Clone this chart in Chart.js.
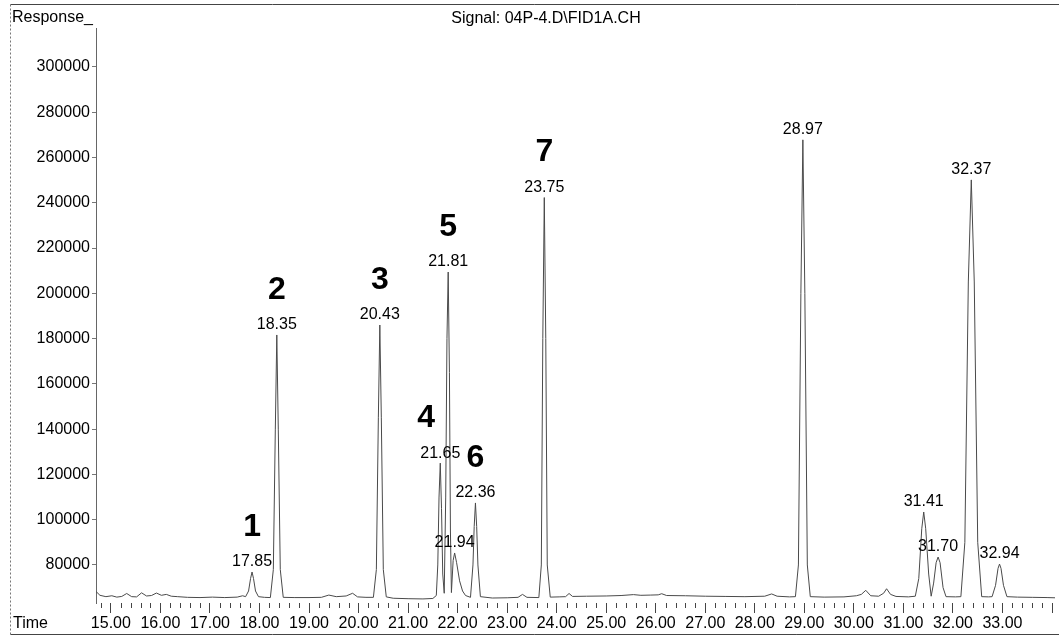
<!DOCTYPE html>
<html>
<head>
<meta charset="utf-8">
<script src="https://cdn.jsdelivr.net/npm/chart.js@4.4.1/dist/chart.umd.min.js"></script>
<style>
  html, body { margin: 0; padding: 0; background: #fff; }
</style>
</head>
<body>
<canvas id="cromatograma" width="1060" height="637"></canvas>
<script>
const tiempos = [
  14.70, 14.78, 14.90, 15.02, 15.12, 15.22, 15.32, 15.42, 15.52, 15.62,
  15.72, 15.82, 15.92, 16.02, 16.12, 16.22, 16.35, 16.55, 16.80, 17.05,
  17.30, 17.55, 17.66, 17.72, 17.78, 17.82, 17.85, 17.88, 17.92, 17.98,
  18.10, 18.22, 18.28, 18.32, 18.35, 18.38, 18.42, 18.48, 18.70, 19.00,
  19.25, 19.40, 19.55, 19.75, 19.88, 19.98, 20.15, 20.30, 20.36, 20.40,
  20.43, 20.46, 20.50, 20.56, 20.70, 21.00, 21.30, 21.50, 21.57, 21.60,
  21.625, 21.65, 21.675, 21.70, 21.73, 21.76, 21.785, 21.81, 21.835, 21.855,
  21.875, 21.91, 21.94, 21.98, 22.04, 22.10, 22.16, 22.26, 22.31, 22.335,
  22.36, 22.385, 22.41, 22.46, 22.70, 23.00, 23.22, 23.31, 23.40, 23.64,
  23.69, 23.72, 23.75, 23.78, 23.81, 23.87, 24.05, 24.18, 24.25, 24.32,
  24.60, 25.00, 25.30, 25.55, 25.70, 25.90, 26.05, 26.12, 26.22, 26.60,
  27.00, 27.40, 27.80, 28.20, 28.34, 28.45, 28.70, 28.82, 28.88, 28.93,
  28.97, 29.01, 29.06, 29.12, 29.40, 29.80, 30.05, 30.15, 30.24, 30.34,
  30.50, 30.60, 30.66, 30.74, 30.85, 31.10, 31.24, 31.31, 31.37, 31.41,
  31.45, 31.51, 31.56, 31.61, 31.66, 31.70, 31.74, 31.80, 31.86, 32.05,
  32.16, 32.24, 32.31, 32.37, 32.43, 32.50, 32.58, 32.72, 32.79, 32.86,
  32.91, 32.94, 32.97, 33.02, 33.09, 33.30, 33.60, 33.90, 34.06
];
const respuesta = [
  68300, 66600, 66000, 66400, 65800, 66100, 67400, 66000, 65900, 67700,
  66300, 66500, 67600, 66600, 67000, 66200, 66000, 65700, 65600, 65800,
  65600, 65800, 66400, 66000, 68500, 74000, 76900, 74000, 68500, 66000,
  65700, 65600, 78000, 140000, 181600, 140000, 78000, 65700, 65600, 65600,
  65700, 66700, 66000, 66300, 67500, 65900, 65700, 65700, 78000, 145000,
  186000, 145000, 78000, 65900, 65300, 65100, 65000, 65200, 66500, 80000,
  110000, 125000, 105000, 76000, 67500, 110000, 180000, 209400, 165000, 95000,
  67800, 82000, 85300, 81000, 73000, 68500, 66500, 65700, 80000, 97000,
  107400, 97000, 80000, 66000, 65400, 65500, 65700, 67000, 65700, 65600,
  80000, 180000, 242300, 180000, 80000, 65800, 65900, 66000, 67400, 66100,
  66200, 66300, 66500, 66900, 66600, 66700, 66800, 67300, 66500, 66400,
  66200, 66100, 66000, 66200, 67200, 66200, 65900, 66000, 80000, 200000,
  267800, 200000, 80000, 66000, 65800, 65900, 66400, 67000, 68800, 66400,
  66200, 67500, 69500, 67000, 66100, 65900, 66200, 74000, 96000, 103400,
  96000, 76000, 66200, 72000, 81000, 83500, 81000, 70000, 66000, 65900,
  66000, 90000, 205000, 250100, 205000, 90000, 66000, 65900, 66000, 71000,
  78500, 80400, 78500, 71000, 66000, 65800, 65700, 65600, 65500
];

// Picos integrados y compuestos numerados
const picosTiempo = [17.85, 18.35, 20.43, 21.65, 21.81, 21.94, 22.36, 23.75, 28.97, 31.41, 31.70, 32.37, 32.94];
const picosTexto = ['17.85', '18.35', '20.43', '21.65', '21.81', '21.94', '22.36', '23.75', '28.97', '31.41', '31.70', '32.37', '32.94'];
const compuestosNumero = ['1', '2', '3', '4', '5', '6', '7'];
const compuestosTiempo = [17.85, 18.35, 20.43, 21.65, 21.81, 22.36, 23.75];

// Marcas de los ejes
const ejeXMarcas = [15, 16, 17, 18, 19, 20, 21, 22, 23, 24, 25, 26, 27, 28, 29, 30, 31, 32, 33, 34];
const ejeXTextos = ['15.00', '16.00', '17.00', '18.00', '19.00', '20.00', '21.00', '22.00', '23.00', '24.00',
  '25.00', '26.00', '27.00', '28.00', '29.00', '30.00', '31.00', '32.00', '33.00', ''];
const ejeYMarcas = [80000, 100000, 120000, 140000, 160000, 180000, 200000, 220000, 240000, 260000, 280000, 300000];

const FUENTE = '"Liberation Sans", Arial, sans-serif';

const puntos = tiempos.map(function (t, i) { return { x: t, y: respuesta[i] }; });

// Textos, marco y marcas menores
const decorado = {
  id: 'decorado',
  afterDraw: function (chart) {
    const ctx = chart.ctx;
    const ejeX = chart.scales.x;
    const ejeY = chart.scales.y;
    const abajo = chart.chartArea.bottom;
    ctx.save();

    // marco
    ctx.strokeStyle = '#444';
    ctx.lineWidth = 1;
    ctx.beginPath();
    ctx.moveTo(10.5, 4.5); ctx.lineTo(1059, 4.5);
    ctx.moveTo(10.5, 634.5); ctx.lineTo(1059, 634.5);
    ctx.stroke();
    ctx.setLineDash([2, 2]);
    ctx.strokeStyle = '#777';
    ctx.beginPath();
    ctx.moveTo(10.5, 4.5); ctx.lineTo(10.5, 634.5);
    ctx.stroke();
    ctx.setLineDash([]);

    // marcas menores cada 0.2 min
    ctx.strokeStyle = '#444';
    ctx.beginPath();
    for (let k = 74; k <= 170; k++) {
      const t = k / 5;
      if (k % 5 === 0) continue;
      const px = Math.round(ejeX.getPixelForValue(t)) + 0.5;
      ctx.moveTo(px, abajo);
      ctx.lineTo(px, abajo + 5);
    }
    ctx.stroke();

    ctx.fillStyle = '#000';
    ctx.font = '16px ' + FUENTE;
    ctx.textBaseline = 'middle';
    ctx.textAlign = 'left';
    ctx.fillText('Response_', 12, 18);
    ctx.fillText('Time', 13, 624);
    ctx.textAlign = 'center';
    ctx.fillText('Signal: 04P-4.D\\FID1A.CH', 546, 19);

    // tiempos de retencion encima de cada pico
    picosTiempo.forEach(function (t, i) {
      const v = respuesta[tiempos.indexOf(t)];
      ctx.fillText(picosTexto[i], ejeX.getPixelForValue(t), ejeY.getPixelForValue(v) - 10);
    });

    // numeros de compuesto
    ctx.font = 'bold 32px ' + FUENTE;
    compuestosTiempo.forEach(function (t, i) {
      const v = respuesta[tiempos.indexOf(t)];
      const dx = compuestosNumero[i] === '4' ? -14 : 0;
      ctx.fillText(compuestosNumero[i], ejeX.getPixelForValue(t) + dx, ejeY.getPixelForValue(v) - 45);
    });
    ctx.restore();
  }
};

new Chart(document.getElementById('cromatograma'), {
  type: 'line',
  data: {
    datasets: [{
      data: puntos,
      borderColor: '#4a4a4a',
      borderWidth: 1,
      pointRadius: 0,
      tension: 0,
      fill: false
    }]
  },
  options: {
    responsive: false,
    animation: false,
    devicePixelRatio: 1,
    layout: { padding: { left: 0, right: 5, top: 28, bottom: 0 } },
    plugins: { legend: { display: false }, tooltip: { enabled: false } },
    scales: {
      x: {
        type: 'linear',
        min: 14.70,
        max: 34.06,
        afterBuildTicks: function (scale) {
          scale.ticks = ejeXMarcas.map(function (v) { return { value: v }; });
        },
        afterFit: function (scale) { scale.height = 34; },
        ticks: {
          autoSkip: false,
          maxRotation: 0,
          padding: 1,
          color: '#000',
          font: { family: FUENTE, size: 16 },
          callback: function (value) {
            const i = ejeXMarcas.indexOf(value);
            return i >= 0 ? ejeXTextos[i] : '';
          }
        },
        grid: { drawOnChartArea: false, drawTicks: true, tickLength: 10, color: '#444' },
        border: { display: false }
      },
      y: {
        type: 'linear',
        min: 63200,
        max: 317200,
        afterBuildTicks: function (scale) {
          scale.ticks = ejeYMarcas.map(function (v) { return { value: v }; });
        },
        afterFit: function (scale) { scale.width = 96; },
        ticks: {
          padding: 2,
          color: '#000',
          font: { family: FUENTE, size: 16 },
          callback: function (value) { return String(value); }
        },
        grid: { drawOnChartArea: false, drawTicks: true, tickLength: 4, color: '#777' },
        border: { display: true, color: '#666', dash: [2, 2] }
      }
    }
  },
  plugins: [decorado]
});
</script>
</body>
</html>
